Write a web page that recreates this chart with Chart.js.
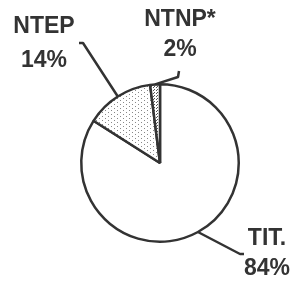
<!DOCTYPE html>
<html><head><meta charset="utf-8">
<script src="https://cdn.jsdelivr.net/npm/chart.js@4.4.0/dist/chart.umd.min.js"></script>
<style>html,body{margin:0;padding:0;background:#fff;}#wrap{width:291px;height:284px;}</style>
</head><body><div id="wrap"><canvas id="c" width="291" height="284"></canvas></div>
<script>
const categories = ['TIT.', 'NTEP', 'NTNP*'];
const values = [84, 14, 2];
const valueLabels = ['84%', '14%', '2%'];

// label layout: elbow point, end of leader, text centre x, two baselines
const labelLayout = [
  {elbow:[240,254], end:[244,254], tx:267, y1:245, y2:275},
  {elbow:[83,43], end:[79,43], tx:44, y1:33, y2:67},
  {elbow:[178,77], end:[179,71], tx:180, y1:26, y2:56}
];

function makePattern(w, h, dots, color){
  const c = document.createElement('canvas');
  c.width = w; c.height = h;
  const x = c.getContext('2d');
  x.fillStyle = '#fff'; x.fillRect(0,0,w,h);
  x.fillStyle = color;
  dots.forEach(d => x.fillRect(d[0], d[1], 1, 1));
  return x.createPattern(c, 'repeat');
}
const fills = [
  '#ffffff',
  makePattern(6, 4, [[0,0],[3,2]], '#888'),
  makePattern(3, 3, [[0,0],[1,2]], '#555')
];

const labelPlugin = {
  id: 'labels',
  afterDraw(chart){
    const ctx = chart.ctx;
    const meta = chart.getDatasetMeta(0);
    ctx.save();
    ctx.strokeStyle = '#333';
    ctx.lineWidth = 2.5;
    ctx.lineJoin = 'round';
    ctx.fillStyle = '#333';
    ctx.font = 'bold 23px "Liberation Sans", Arial, sans-serif';
    ctx.textAlign = 'center';
    ctx.textBaseline = 'alphabetic';
    meta.data.forEach((arc, i) => {
      const p = arc.getProps(['x','y','startAngle','endAngle','outerRadius'], true);
      const mid = (p.startAngle + p.endAngle) / 2;
      const r = p.outerRadius;
      const sx = p.x + Math.cos(mid) * r;
      const sy = p.y + Math.sin(mid) * r;
      const L = labelLayout[i];
      ctx.beginPath();
      ctx.moveTo(sx, sy);
      ctx.lineTo(L.elbow[0], L.elbow[1]);
      ctx.lineTo(L.end[0], L.end[1]);
      ctx.stroke();
      ctx.fillText(categories[i], L.tx, L.y1);
      ctx.fillText(valueLabels[i], L.tx, L.y2);
    });
    ctx.restore();
  }
};

new Chart(document.getElementById('c'), {
  type: 'pie',
  data: {
    labels: categories,
    datasets: [{
      data: values,
      backgroundColor: fills,
      borderColor: '#333',
      borderWidth: 2.5,
      borderAlign: 'center'
    }]
  },
  options: {
    responsive: false,
    animation: false,
    events: [],
    layout: {padding: {left: 80, right: 51, top: 83, bottom: 41}},
    plugins: {legend: {display: false}, tooltip: {enabled: false}}
  },
  plugins: [labelPlugin]
});
</script>
</body></html>
